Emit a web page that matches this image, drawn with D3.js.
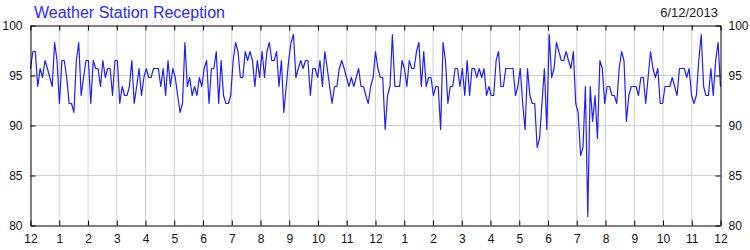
<!DOCTYPE html>
<html>
<head>
<meta charset="utf-8">
<script src="https://cdn.jsdelivr.net/npm/d3@7"></script>
<style>
body { margin: 0; background: #fff; }
svg { display: block; font-family: "Liberation Sans", Arial, sans-serif; }
</style>
</head>
<body>
<div id="chart"></div>
<script>
// tick labels
var hourLabels = ["12","1","2","3","4","5","6","7","8","9","10","11","12","1","2","3","4","5","6","7","8","9","10","11","12"];
var yTicks = [80, 85, 90, 95, 100];
var gridY = [85, 90, 95];

// reception % , one reading every 5 minutes, midnight to midnight
var receptionNight = [
    95.7, 97.4, 97.4, 93.9, 95.7, 94.8, 96.5, 95.7, 94.8, 93.9,
    98.3, 96.5, 92.2, 96.5, 96.5, 94.8, 92.2, 92.2, 91.3, 96.5,
    98.3, 93.0, 94.8, 96.5, 96.5, 92.2, 96.5, 95.7, 95.7, 93.9,
    96.5, 94.8, 95.7, 95.7, 93.0, 96.5, 96.5, 92.2, 93.9, 93.0,
    93.0, 93.9, 96.5, 92.2, 93.9, 95.7, 93.0, 94.8, 95.7, 94.8,
    94.8, 95.7, 95.7, 95.7, 93.9, 95.7, 93.0, 96.5, 93.9, 95.7,
    94.8, 93.0, 91.3, 92.2, 98.3, 93.9, 94.8, 93.0, 93.9, 93.0,
    94.8, 93.9, 95.7, 96.5, 92.2, 95.7, 95.7, 97.4, 92.2, 96.5,
    93.0, 92.2, 92.2, 93.0, 96.5, 98.3, 97.4, 94.8, 94.8, 97.4
];
var receptionMorning = [
    96.5, 97.4, 96.5, 93.9, 96.5, 94.8, 97.4, 94.8, 97.4, 98.3,
    96.5, 96.5, 97.4, 93.9, 96.5, 91.3, 93.9, 96.5, 98.3, 99.1,
    94.8, 95.7, 96.5, 95.7
];
var receptionMidday = [
    96.5, 96.5, 93.0, 95.7, 95.7, 94.8, 96.5, 93.9, 97.4, 95.7,
    93.9, 92.2, 93.9, 93.9, 95.7, 96.5, 95.7, 94.8, 93.9, 94.8,
    93.9, 94.8, 95.7, 93.9, 93.9, 93.0, 92.2, 93.9, 94.8, 97.4,
    95.7, 94.8, 94.8, 89.6, 93.0, 93.9, 99.1, 93.9, 93.9, 93.9,
    96.5, 95.7, 93.9, 96.5, 95.7, 95.7, 97.4, 98.3, 93.9, 97.4,
    93.9, 94.8, 94.8, 93.0, 93.9, 93.9, 89.6
];
var receptionAfternoon = [
    98.3, 96.5, 92.2, 93.9, 93.9, 95.7, 95.7, 93.9, 95.7, 93.0,
    96.5, 93.0, 95.7, 95.7, 94.8, 95.7, 94.8, 95.7, 93.0, 93.9,
    93.0, 93.0, 96.5, 97.4, 93.9, 93.9, 95.7, 95.7, 95.7, 95.7,
    93.0, 93.9, 95.7, 92.2, 89.6, 95.7, 93.0, 92.2, 92.2, 87.8,
    88.7, 92.2, 95.7, 89.6, 99.1, 94.8, 95.7, 98.3, 97.4, 96.5,
    96.5, 97.4, 96.5, 95.7, 97.4, 92.2, 91.3
];
var receptionEvening = [
    87.0, 87.8, 93.9, 80.9, 93.9, 90.4, 93.0, 88.7, 96.5, 95.7,
    92.2, 93.9, 93.9, 93.0, 93.0, 92.2, 95.7, 97.4, 96.5, 90.4,
    93.0, 93.9, 93.9, 93.9, 93.0, 94.8, 94.8, 92.2, 94.8, 97.4,
    95.7, 94.8, 95.7, 92.2, 92.2, 93.9, 93.9, 93.9, 94.8, 93.9,
    93.0, 95.7, 95.7, 95.7, 94.8, 95.7, 93.0, 92.2, 93.0, 96.5,
    99.1, 93.9, 93.0, 93.0, 95.7, 93.0, 96.5, 98.3, 93.9
];

var reception = receptionNight.concat(receptionMorning, receptionMidday, receptionAfternoon, receptionEvening);
var n = reception.length;

var margin = {top: 25.5, right: 29.5, bottom: 24.5, left: 30.5},
    width = 750 - margin.left - margin.right,
    height = 250 - margin.top - margin.bottom;

var svg = d3.select("#chart")
    .append("svg")
    .attr("width", 750)
    .attr("height", 250);

var g = svg.append("g")
    .attr("transform", "translate(" + margin.left + "," + margin.top + ")");

var x = d3.scaleLinear().domain([0, 24]).range([0, width]);
var y = d3.scaleLinear().domain([80, 100]).range([height, 0]);

// grid
g.selectAll(".vgrid")
    .data(d3.range(1, 24))
    .enter().append("line")
    .attr("x1", function(d) { return x(d); })
    .attr("x2", function(d) { return x(d); })
    .attr("y1", 0).attr("y2", height)
    .attr("stroke", "#d0d0d0");

g.selectAll(".hgrid")
    .data(gridY)
    .enter().append("line")
    .attr("x1", 0).attr("x2", width)
    .attr("y1", function(d) { return y(d); })
    .attr("y2", function(d) { return y(d); })
    .attr("stroke", "#d0d0d0");

// line
var line = d3.line()
    .x(function(d, i) { return x(i * 24 / (n - 1)); })
    .y(function(d) { return y(d); });

g.append("path")
    .datum(reception)
    .attr("fill", "none")
    .attr("stroke", "#1f1fff")
    .attr("stroke-width", 1.2)
    .attr("stroke-linejoin", "round")
    .attr("d", line);

// axes
function styleAxis(sel) {
    sel.attr("font-size", 12)
        .attr("font-family", '"Liberation Sans", Arial, sans-serif');
    sel.selectAll("text").attr("fill", "#111");
}

g.append("g")
    .attr("transform", "translate(0," + height + ")")
    .call(d3.axisBottom(x).tickValues(d3.range(25))
        .tickFormat(function(d) { return hourLabels[d]; })
        .tickSizeInner(-5).tickSizeOuter(0).tickPadding(9))
    .call(styleAxis);

g.append("g")
    .call(d3.axisTop(x).tickValues(d3.range(25))
        .tickFormat("").tickSizeInner(-5).tickSizeOuter(0))
    .call(styleAxis);

g.append("g")
    .call(d3.axisLeft(y).tickValues(yTicks)
        .tickSizeInner(-5).tickSizeOuter(0).tickPadding(8))
    .call(styleAxis);

g.append("g")
    .attr("transform", "translate(" + width + ",0)")
    .call(d3.axisRight(y).tickValues(yTicks)
        .tickSizeInner(-5).tickSizeOuter(0).tickPadding(8))
    .call(styleAxis);

// titles
svg.append("text")
    .attr("x", 34)
    .attr("y", 18)
    .attr("font-size", 16)
    .attr("fill", "#2a2aff")
    .text("Weather Station Reception");

svg.append("text")
    .attr("x", 718)
    .attr("y", 17)
    .attr("text-anchor", "end")
    .attr("font-size", 13)
    .attr("fill", "#222")
    .text("6/12/2013");
</script>
</body>
</html>
